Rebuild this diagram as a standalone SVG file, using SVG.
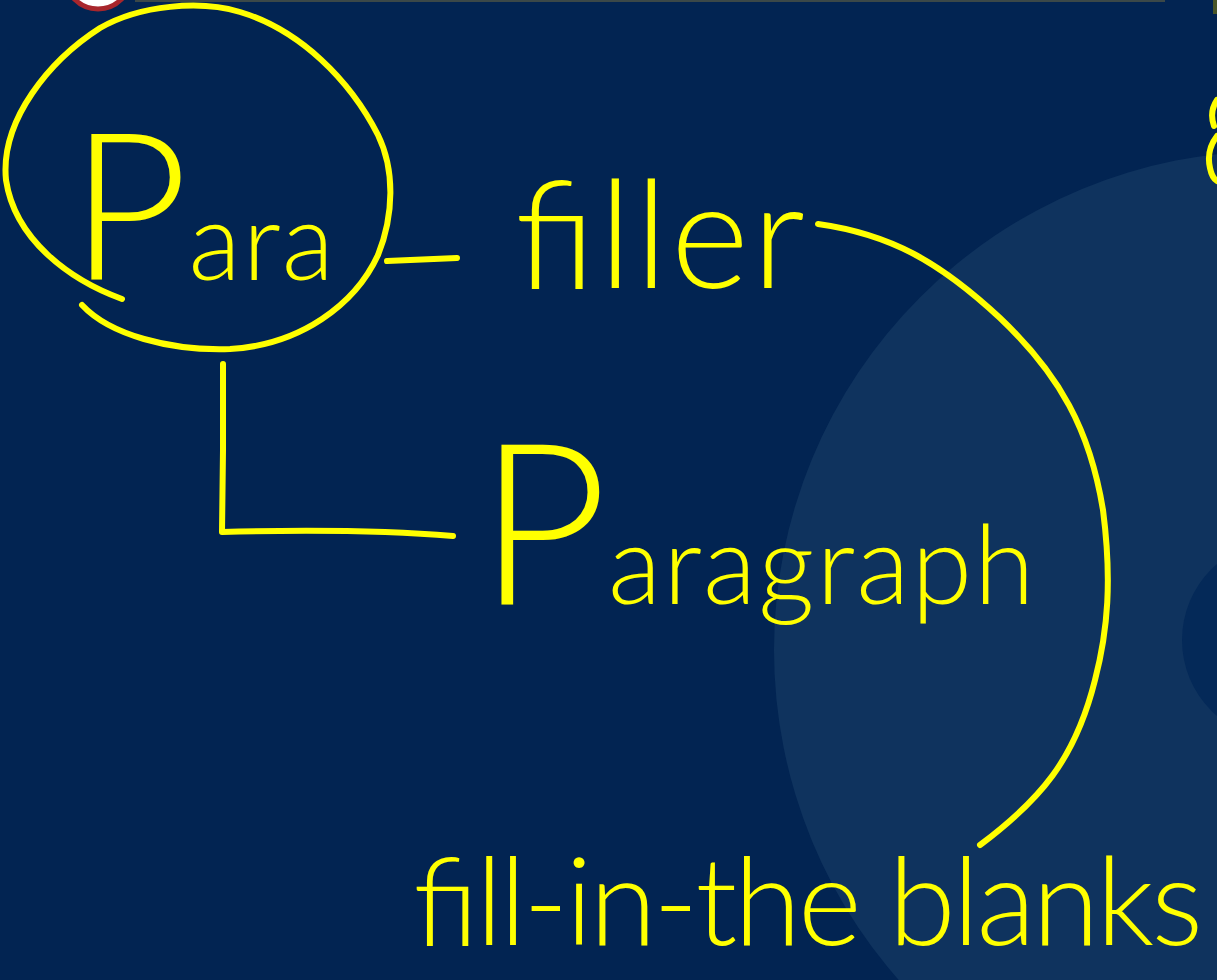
<svg xmlns="http://www.w3.org/2000/svg" width="1217" height="980" viewBox="0 0 1217 980">
  <defs>
    <style>
      .ink { fill: none; stroke: #ffff00; stroke-width: 6; stroke-linecap: round; stroke-linejoin: round; }
      .hw { fill: #ffff00; font-family: Lato, "Open Sans", "Liberation Sans", sans-serif; font-weight: 300; }
    </style>
  </defs>
  <!-- background -->
  <rect x="0" y="0" width="1217" height="980" fill="#022452"/>
  <circle cx="1273" cy="650" r="499" fill="#0f335e"/>
  <circle cx="1282" cy="640" r="100" fill="#042958"/>
  <rect x="135" y="0" width="1030" height="2" fill="#3b4848"/>
  <rect x="1213" y="0" width="4" height="14" fill="#4a5628"/>
  <circle cx="98" cy="-24" r="33" fill="#ffffff" stroke="#a8262c" stroke-width="5"/>
  <path class="ink" d="M1217,100 Q1209,112 1214,126 M1217,136 Q1206,150 1210,168 Q1212,178 1217,181"/>

  <g id="node-para">
    <path class="ink" d="M122,299 C70,280 15,240 6,180 C0,120 50,60 100,28 C140,5 200,0 240,12 C300,30 350,80 378,135 C395,170 394,215 378,255 C355,305 300,345 230,349 C170,351 110,335 82,305"/>
    <text class="hw" x="70" y="280"><tspan font-size="205">P</tspan><tspan font-size="108" letter-spacing="2">ara</tspan></text>
  </g>

  <g id="node-filler">
    <text class="hw" x="515" y="288" font-size="150" textLength="290" lengthAdjust="spacing">filler</text>
  </g>

  <g id="node-paragraph">
    <text class="hw" x="478" y="604"><tspan font-size="225">P</tspan><tspan font-size="110" letter-spacing="2">aragraph</tspan></text>
  </g>

  <g id="node-fill-in-the-blanks">
    <text class="hw" x="410" y="945" font-size="122" textLength="790" lengthAdjust="spacing">fill-in-the blanks</text>
  </g>

  <g id="connectors">
    <path class="ink" d="M387,261 L457,258"/>
    <path class="ink" d="M223,364 L223,450 L222,532 C300,530 380,530 453,536"/>
    <path class="ink" d="M818,224 C890,234 940,262 1000,318 C1060,375 1090,430 1103,510 C1112,580 1108,630 1095,680 C1075,760 1040,800 980,845"/>
  </g>
</svg>
